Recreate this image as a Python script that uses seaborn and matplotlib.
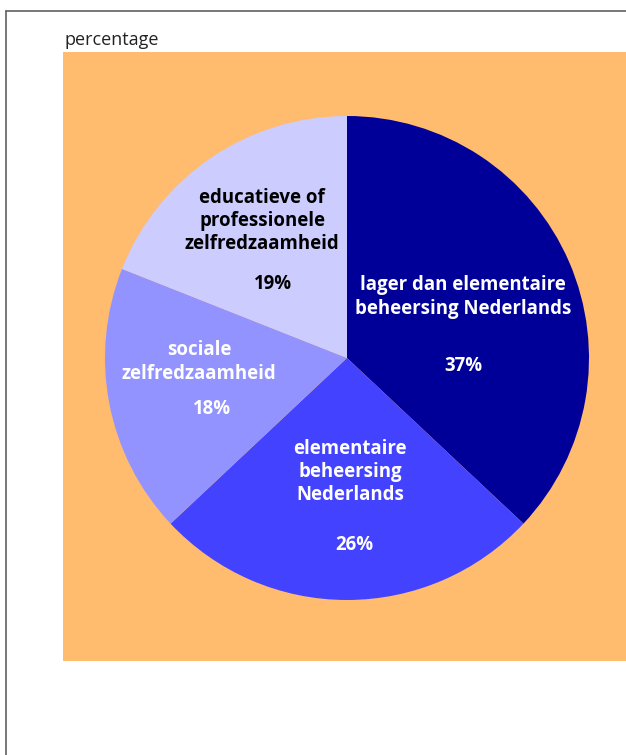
import matplotlib
matplotlib.use("Agg")
import matplotlib.pyplot as plt
import seaborn as sns
from matplotlib.patches import Rectangle
from matplotlib.lines import Line2D

categories = ["lager dan elementaire\nbeheersing Nederlands",
              "elementaire\nbeheersing\nNederlands",
              "sociale\nzelfredzaamheid",
              "educatieve of\nprofessionele\nzelfredzaamheid"]
values = [37, 26, 18, 19]
pct_labels = ["37%", "26%", "18%", "19%"]
colors = ["#000099", "#4343FF", "#9393FF", "#CCCCFF"]
text_colors = ["white", "white", "white", "black"]

sns.set_style("white")
plt.rcParams["font.family"] = ["Open Sans", "DejaVu Sans"]

W, H = 626, 755
fig = plt.figure(figsize=(W / 100, H / 100), dpi=100)
fig.patch.set_facecolor("white")

# orange panel
fig.add_artist(Rectangle((63 / W, 1 - 661 / H), (W - 63) / W, (661 - 52) / H,
                         transform=fig.transFigure, facecolor="#FFBB6E",
                         edgecolor="none", zorder=-5))
# frame lines
fig.add_artist(Line2D([5.5 / W, 1], [1 - 10.5 / H, 1 - 10.5 / H], color="#606060", lw=1.2))
fig.add_artist(Line2D([5.5 / W, 5.5 / W], [0, 1 - 10.5 / H], color="#606060", lw=1.2))

fig.text(65 / W, 1 - 45 / H, "percentage", fontsize=13, color="#222222",
         ha="left", va="baseline")

cx, cy, r = 347, 358, 242
ax = fig.add_axes([(cx - r) / W, 1 - (cy + r) / H, 2 * r / W, 2 * r / H], zorder=5)
ax.patch.set_alpha(0)
ax.pie(values, colors=colors, startangle=90, counterclock=False,
       wedgeprops=dict(linewidth=0))
ax.set_xlim(-1, 1)
ax.set_ylim(-1, 1)
ax.set_aspect("equal")
ax.axis("off")

label_pos = [(0.479, 0.252), (0.012, -0.471), (-0.612, -0.017), (-0.351, 0.566)]
pct_pos = [(0.479, -0.033), (0.029, -0.773), (-0.558, -0.211), (-0.306, 0.306)]
for lab, pl, (lx, ly), (px, py), tc in zip(categories, pct_labels, label_pos, pct_pos, text_colors):
    ax.text(lx, ly, lab, ha="center", va="center", fontsize=13.4, fontweight="bold",
            color=tc, linespacing=1.22)
    ax.text(px, py, pl, ha="center", va="center", fontsize=13.4, fontweight="bold",
            color=tc)

fig.savefig("out.png", dpi=100)
